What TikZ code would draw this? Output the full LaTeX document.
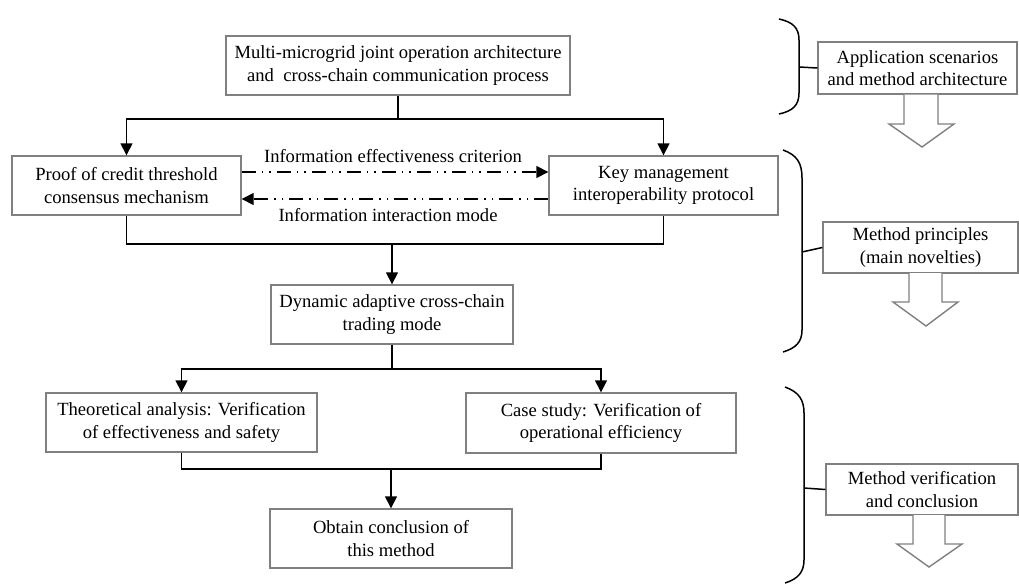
\documentclass[tikz,border=0pt]{standalone}
\usepackage{fontspec}
\setmainfont{Liberation Serif}
\usetikzlibrary{arrows.meta,calc}
\definecolor{boxgray}{RGB}{128,128,128}
\begin{document}
\begin{tikzpicture}[x=1pt,y=-1pt,
  font=\fontsize{18.6}{22.3}\selectfont,
  box/.style={draw=boxgray, line width=1.4pt, fill=white, align=center, inner sep=0pt, minimum height=59pt},
  conn/.style={line width=1.5pt, -{Triangle[length=12pt,width=12pt]}},
  plain/.style={line width=1.5pt},
  dcd/.style={line width=1.5pt, dash pattern=on 14pt off 6pt on 1.5pt off 6pt on 1.5pt off 6pt, -{Triangle[length=12pt,width=12pt]}},
  brace/.style={line width=1.5pt},
  barrow/.style={draw=boxgray, line width=1.4pt, fill=white, line join=miter},
  side/.style={draw=boxgray, line width=1.4pt, fill=white, align=center, inner sep=0pt, minimum height=51pt}
]
\useasboundingbox (0,0) rectangle (1019,584);

% main boxes
\node[box, minimum width=344pt] (A) at (398,65.5) {Multi-microgrid joint operation architecture\\ and\ \ cross-chain communication process};
\node[box, minimum width=229pt] (B) at (126.5,185.5) {Proof of credit threshold\\consensus mechanism};
\node[box, minimum width=229pt] (C) at (663.5,185.5) {Key management\\interoperability protocol};
\node[box, minimum width=242pt] (D) at (392,314.5) {Dynamic adaptive cross-chain\\trading mode};
\node[box, minimum width=271pt] (E) at (181.5,422.5) {Theoretical analysis: Verification\\of effectiveness and safety};
\node[box, minimum width=270pt, minimum height=60pt] (F) at (601,423) {Case study: Verification of\\operational efficiency};
\node[box, minimum width=242pt] (G) at (391,538.5) {Obtain conclusion of\\this method};

% connectors
\coordinate (j1) at (398,119);
\draw[plain] (A.south) -- (j1);
\draw[conn] (j1) -| (B.north);
\draw[conn] (j1) -| (C.north);

\draw[dcd] ($(B.east)+(0,-13.5)$) -- ($(C.west)+(0,-13.5)$);
\draw[dcd] ($(C.west)+(0,13.5)$) -- ($(B.east)+(0,13.5)$);
\node (L1) at (393,156) {Information effectiveness criterion};
\node (L2) at (388,215) {Information interaction mode};

\coordinate (j2) at (392,244);
\draw[plain] (B.south) |- (j2) -| (C.south);
\draw[conn] (j2) -- (D.north);

\coordinate (j3) at (392,369);
\draw[plain] (D.south) -- (j3);
\draw[conn] (j3) -| (E.north);
\draw[conn] (j3) -| (F.north);

\coordinate (j4) at (391,469);
\draw[plain] (E.south) |- (j4) -| (F.south);
\draw[conn] (j4) -- (G.north);

% right side boxes
\node[side, minimum width=199pt, minimum height=52pt] (H) at (917.5,68) {Application scenarios\\and method architecture};
\node[side, minimum width=195pt] (I) at (920.5,247.5) {Method principles\\(main novelties)};
\node[side, minimum width=192pt] (J) at (922,489.5) {Method verification\\and conclusion};

% block arrows
\draw[barrow] (904,94.7) -- (904,124) -- (889,124) -- (922,147) -- (954,124) -- (938,124) -- (938,94.7);
\draw[barrow] (909,273.2) -- (909,302) -- (893,302) -- (926,326) -- (958,302) -- (942,302) -- (942,273.2);
\draw[barrow] (913,515.2) -- (913,544) -- (897,544) -- (929,567) -- (962,544) -- (945,544) -- (945,515.2);

% braces
\draw[brace] (779,19) .. controls (793,22) and (799,28) .. (799,40) -- (799,93) .. controls (799,105) and (793,111) .. (779,114);
\draw[brace] (799,67) -- (H.west);
\draw[brace] (783,150) .. controls (797,155) and (802,163) .. (802,178) -- (802,330) .. controls (802,342) and (796,348) .. (783,352);
\draw[brace] (802,252) -- (I.west);
\draw[brace] (785,387) .. controls (799,392) and (804,400) .. (804,413) -- (804,560) .. controls (804,572) and (798,579) .. (785,583);
\draw[brace] (804,488) -- (J.west);
\end{tikzpicture}
\end{document}
